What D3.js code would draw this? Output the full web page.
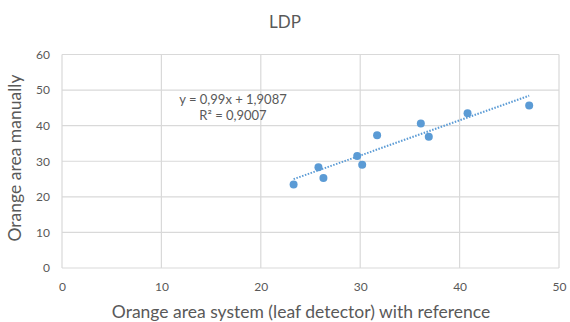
<!DOCTYPE html>
<html><head><meta charset="utf-8">
<script src="https://cdn.jsdelivr.net/npm/d3@7"></script>
<style>body{margin:0;background:#fff}svg{display:block}</style>
</head><body>
<svg id="c" width="570" height="322"></svg>
<script>
const title = "LDP";
const xValues = [23.3, 25.8, 26.3, 29.7, 30.2, 31.7, 36.1, 36.9, 40.8, 47.0];
const yValues = [23.5, 28.3, 25.3, 31.5, 29.0, 37.3, 40.6, 36.9, 43.5, 45.7];
const xTicks = [0, 10, 20, 30, 40, 50];
const yTicks = [0, 10, 20, 30, 40, 50, 60];
const slope = 0.99, intercept = 1.9087;
const eqLines = ["y = 0,99x + 1,9087", "R² = 0,9007"];
const xTitle = "Orange area system (leaf detector) with reference";
const yTitle = "Orange area manually";

const svg = d3.select("#c");
const font = "Lato, 'Open Sans', sans-serif";
const txt = "#595959", grid = "#d9d9d9", blue = "#5b9bd5";
const x = d3.scaleLinear().domain([0, 50]).range([62, 559]);
const y = d3.scaleLinear().domain([0, 60]).range([268, 54.5]);

// gridlines
svg.append("g").selectAll("line").data(yTicks).join("line")
  .attr("x1", x(0)).attr("x2", x(50)).attr("y1", d => y(d)).attr("y2", d => y(d))
  .attr("stroke", grid).attr("stroke-width", 1.2);
svg.append("g").selectAll("line").data(xTicks).join("line")
  .attr("y1", y(0)).attr("y2", y(60)).attr("x1", d => x(d)).attr("x2", d => x(d))
  .attr("stroke", grid).attr("stroke-width", 1.2);

// axes tick labels
const yAxis = d3.axisLeft(y).tickValues(yTicks).tickSize(0).tickPadding(12);
const ya = svg.append("g").attr("transform", `translate(${x(0)},0)`).call(yAxis);
const xAxis = d3.axisBottom(x).tickValues(xTicks).tickSize(0).tickPadding(14);
const xa = svg.append("g").attr("transform", `translate(0,${y(0)})`).call(xAxis);
[ya, xa].forEach(g => {
  g.select(".domain").remove();
  g.selectAll("text").attr("fill", txt).style("font-family", font).style("font-size", "12px");
});

// trendline
const xmin = d3.min(xValues), xmax = d3.max(xValues);
svg.append("line")
  .attr("x1", x(xmin)).attr("y1", y(slope * xmin + intercept))
  .attr("x2", x(xmax)).attr("y2", y(slope * xmax + intercept))
  .attr("stroke", blue).attr("stroke-width", 2).attr("stroke-dasharray", "1.5,1.5");

// points
svg.append("g").selectAll("circle").data(xValues).join("circle")
  .attr("cx", d => x(d)).attr("cy", (d, i) => y(yValues[i])).attr("r", 4)
  .attr("fill", blue);

// equation
svg.append("g").selectAll("text").data(eqLines).join("text")
  .attr("x", 233).attr("y", (d, i) => 104 + i * 16)
  .attr("text-anchor", "middle").attr("fill", txt)
  .style("font-family", font).style("font-size", "13px").text(d => d);

// title
svg.append("text").attr("x", 285).attr("y", 28).attr("text-anchor", "middle")
  .attr("fill", txt).style("font-family", font).style("font-size", "17px").text(title);

// axis titles
svg.append("text").attr("x", 301).attr("y", 318).attr("text-anchor", "middle")
  .attr("fill", txt).style("font-family", font).style("font-size", "17.5px").text(xTitle);
svg.append("text").attr("transform", "translate(21,158) rotate(-90)").attr("text-anchor", "middle")
  .attr("fill", txt).style("font-family", font).style("font-size", "17.5px").text(yTitle);
</script>
</body></html>
